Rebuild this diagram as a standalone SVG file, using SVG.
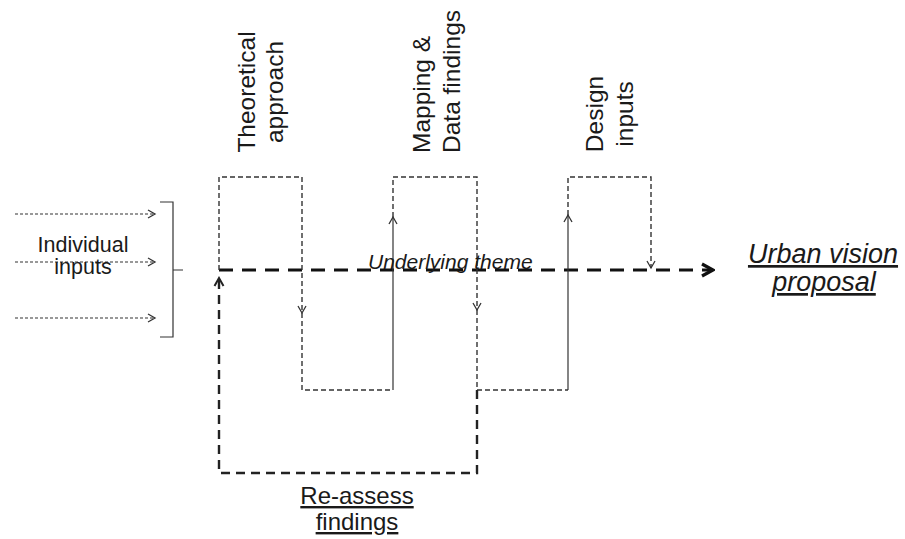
<svg xmlns="http://www.w3.org/2000/svg" width="905" height="539" viewBox="0 0 905 539">
<style>
.t{font-family:"Liberation Sans",Arial,sans-serif;fill:#1a1a1a}
.thin{fill:none;stroke:#333;stroke-width:1.4;stroke-dasharray:5 3}
.solid{fill:none;stroke:#333;stroke-width:1.2}
.inp{fill:none;stroke:#333;stroke-width:1.2;stroke-dasharray:3 2}
.thick{fill:none;stroke:#111;stroke-width:3.2;stroke-dasharray:14 9}
.loop{fill:none;stroke:#222;stroke-width:2.4;stroke-dasharray:9 6}
</style>
<defs>
<marker id="ah" viewBox="-10 -6 12 12" refX="0" refY="0" markerWidth="12" markerHeight="12" markerUnits="userSpaceOnUse" orient="auto">
<path d="M-7,-4 L0,0 L-7,4" fill="none" stroke="#333" stroke-width="1.3"/>
</marker>
<marker id="ahb" viewBox="-14 -9 16 18" refX="0" refY="0" markerWidth="16" markerHeight="18" markerUnits="userSpaceOnUse" orient="auto">
<path d="M-11,-6 L0,0 L-11,6" fill="none" stroke="#111" stroke-width="3.2"/>
</marker>
<marker id="ahm" viewBox="-10 -7 12 14" refX="0" refY="0" markerWidth="12" markerHeight="14" markerUnits="userSpaceOnUse" orient="auto">
<path d="M-8,-4.5 L0,0 L-8,4.5" fill="none" stroke="#222" stroke-width="2"/>
</marker>
</defs>

<g id="connectors">
<path class="inp" d="M15,214 H155" marker-end="url(#ah)"/>
<path class="inp" d="M15,262 H155" marker-end="url(#ah)"/>
<path class="inp" d="M15,318 H155" marker-end="url(#ah)"/>
<path class="solid" d="M160,202 H173 V337 H160 M173,270 H183" stroke-width="1.5"/>
<path class="thick" d="M219,270 H713" marker-end="url(#ahb)"/>
<path class="thin" d="M219,270 V177 H302 V313" marker-end="url(#ah)"/>
<path class="thin" d="M302,313 V390 H393"/>
<path class="solid" d="M393,390 V217" marker-end="url(#ah)"/>
<path class="thin" d="M393,217 V177 H477 V310" marker-end="url(#ah)"/>
<path class="thin" d="M477,310 V390 H568"/>
<path class="solid" d="M568,390 V215" marker-end="url(#ah)"/>
<path class="thin" d="M568,215 V177 H651 V268" marker-end="url(#ah)"/>
<path class="loop" d="M477,390 V473 H219 V278" marker-end="url(#ahm)"/>
</g>

<g id="individual-inputs">
<text class="t" x="83" y="252" font-size="21.5" text-anchor="middle">Individual</text>
<text class="t" x="83" y="274" font-size="21.5" text-anchor="middle">inputs</text>
</g>

<g id="theoretical-approach">
<text class="t" font-size="24.5" text-anchor="middle" transform="translate(255,92) rotate(-90)">Theoretical</text>
<text class="t" font-size="24.5" text-anchor="middle" transform="translate(283,92) rotate(-90)">approach</text>
</g>

<g id="mapping-data">
<text class="t" font-size="24.5" text-anchor="start" transform="translate(430,153) rotate(-90)">Mapping &amp;</text>
<text class="t" font-size="24.5" text-anchor="start" transform="translate(460,153) rotate(-90)">Data findings</text>
</g>

<g id="design-inputs">
<text class="t" font-size="24.5" text-anchor="middle" transform="translate(603,114) rotate(-90)">Design</text>
<text class="t" font-size="24.5" text-anchor="middle" transform="translate(633,114) rotate(-90)">inputs</text>
</g>

<g id="underlying-theme">
<text class="t" x="368" y="269" font-size="21" font-style="italic">Underlying theme</text>
</g>

<g id="urban-vision">
<text class="t" x="823" y="263" font-size="27" font-style="italic" text-anchor="middle" text-decoration="underline">Urban vision</text>
<text class="t" x="824" y="291" font-size="27" font-style="italic" text-anchor="middle" text-decoration="underline">proposal</text>
</g>

<g id="reassess">
<text class="t" x="357" y="504" font-size="24" text-anchor="middle" text-decoration="underline">Re-assess</text>
<text class="t" x="357" y="530" font-size="24" text-anchor="middle" text-decoration="underline">findings</text>
</g>
</svg>
